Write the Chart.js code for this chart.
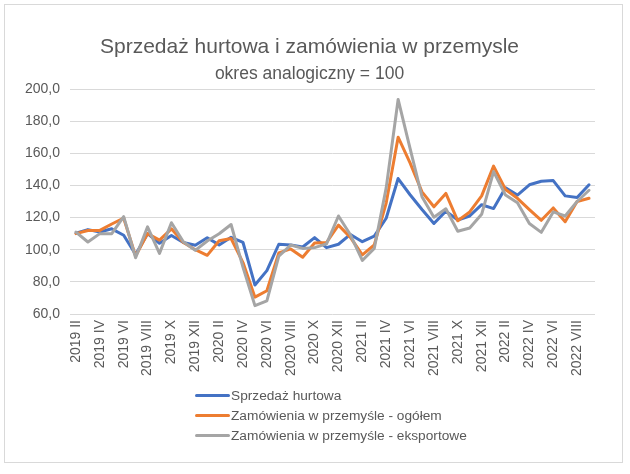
<!DOCTYPE html>
<html>
<head>
<meta charset="utf-8">
<script src="https://cdn.jsdelivr.net/npm/chart.js@4.4.1/dist/chart.umd.min.js"></script>
<style>
  html, body { margin: 0; padding: 0; background: #ffffff; }
  #wrap { position: relative; width: 630px; height: 474px; }
  #c { position: absolute; left: 0; top: 0; }
  #legend { position: absolute; left: 195px; top: 385px; font-family: "Liberation Sans", Arial, sans-serif; font-size: 13.7px; color: #595959; }
  #legend .item { display: flex; align-items: center; height: 20.3px; white-space: nowrap; }
  #legend .swatch { width: 35px; height: 3px; margin-right: 1px; border-radius: 1.5px; }
</style>
</head>
<body>
<div id="wrap">
  <canvas id="c" width="630" height="474"></canvas>
  <div id="legend"></div>
</div>
<script>
const titleText = "Sprzedaż hurtowa i zamówienia w przemysle";
const subtitleText = "okres analogiczny = 100";

const categories = [
  "2019 II","2019 III","2019 IV","2019 V","2019 VI","2019 VII","2019 VIII","2019 IX","2019 X","2019 XI","2019 XII",
  "2020 I","2020 II","2020 III","2020 IV","2020 V","2020 VI","2020 VII","2020 VIII","2020 IX","2020 X","2020 XI","2020 XII",
  "2021 I","2021 II","2021 III","2021 IV","2021 V","2021 VI","2021 VII","2021 VIII","2021 IX","2021 X","2021 XI","2021 XII",
  "2022 I","2022 II","2022 III","2022 IV","2022 V","2022 VI","2022 VII","2022 VIII","2022 IX"
];

const seriesNames = [
  "Sprzedaż hurtowa",
  "Zamówienia w przemyśle - ogółem",
  "Zamówienia w przemyśle - eksportowe"
];

const sprzedazHurtowa = [
  110.3, 112.5, 111.0, 113.0, 109.0, 97.0, 110.0, 104.0, 108.8, 104.5, 102.8,
  107.5, 103.0, 107.7, 104.5, 78.0, 87.0, 103.4, 103.0, 101.7, 107.5, 101.3, 103.4,
  109.5, 105.0, 108.5, 119.6, 144.3, 134.2, 125.0, 116.3, 124.0, 118.5, 121.0, 128.0,
  125.6, 138.5, 134.0, 140.4, 142.6, 143.0, 133.5, 132.5, 140.4
];

const zamowieniaOgolem = [
  110.0, 112.0, 112.0, 116.0, 119.6, 96.0, 110.0, 106.0, 113.0, 104.5, 100.0,
  96.5, 105.6, 107.0, 92.0, 70.5, 74.5, 98.0, 100.5, 95.3, 104.2, 104.5, 115.3,
  107.7, 96.8, 103.0, 129.0, 170.0, 154.0, 136.0, 126.7, 135.0, 118.0, 123.5, 133.5,
  152.0, 137.5, 132.0, 125.0, 118.3, 126.0, 117.4, 130.0, 132.0
];

const zamowieniaEksportowe = [
  111.0, 104.8, 110.0, 110.0, 120.6, 95.0, 114.2, 97.7, 116.8, 105.0, 99.6,
  105.4, 109.9, 115.7, 89.0, 65.2, 68.2, 96.0, 102.9, 100.8, 101.3, 103.6, 121.0,
  109.3, 93.3, 100.8, 138.5, 193.5, 163.0, 133.0, 120.2, 125.5, 111.5, 113.5, 122.0,
  148.6, 134.0, 129.2, 116.3, 110.8, 123.5, 121.0, 130.0, 137.0
];

const yMin = 60, yMax = 200, yStep = 20;

const colors = ["#4472C4", "#ED7D31", "#A5A5A5"];
const seriesData = [sprzedazHurtowa, zamowieniaOgolem, zamowieniaEksportowe];

const textColor = "#595959";
const fontFamily = '"Liberation Sans", Arial, sans-serif';

const borderPlugin = {
  id: 'outerBorder',
  beforeDraw(chart) {
    const ctx = chart.ctx;
    ctx.save();
    ctx.fillStyle = '#ffffff';
    ctx.fillRect(0, 0, chart.width, chart.height);
    ctx.strokeStyle = '#D9D9D9';
    ctx.lineWidth = 1;
    ctx.strokeRect(4.5, 4.5, 618, 458);
    ctx.restore();
  }
};

const datasets = seriesNames.map((name, i) => ({
  label: name,
  data: seriesData[i],
  borderColor: colors[i],
  backgroundColor: colors[i],
  borderWidth: 3,
  pointRadius: 0,
  pointHoverRadius: 0,
  tension: 0,
  fill: false,
  borderJoinStyle: 'round',
  borderCapStyle: 'round',
  order: seriesNames.length - i
}));

new Chart(document.getElementById('c'), {
  type: 'line',
  data: { labels: categories, datasets },
  options: {
    responsive: false,
    animation: false,
    devicePixelRatio: 1,
    layout: { padding: { left: 24, right: 35, top: 0, bottom: 0 } },
    plugins: {
      legend: { display: false },
      tooltip: { enabled: false },
      title: {
        display: true,
        text: titleText,
        color: textColor,
        font: { family: fontFamily, size: 21, weight: 'normal' },
        padding: { top: 35, bottom: 0 }
      },
      subtitle: {
        display: true,
        text: subtitleText,
        color: textColor,
        font: { family: fontFamily, size: 17.5, weight: 'normal' },
        padding: { top: 3.4, bottom: 4.4 }
      }
    },
    scales: {
      x: {
        offset: true,
        grid: { display: false, drawTicks: false },
        border: { display: false },
        ticks: {
          autoSkip: false,
          minRotation: 90,
          maxRotation: 90,
          padding: 6,
          color: textColor,
          font: { family: fontFamily, size: 14 },
          callback: function(value, index) {
            return index % 2 === 0 ? this.getLabelForValue(value) : '';
          }
        },
        afterFit(scale) { scale.height = 160; }
      },
      y: {
        min: yMin,
        max: yMax,
        grid: { color: '#D9D9D9', lineWidth: 1, drawTicks: false },
        border: { display: false },
        ticks: {
          stepSize: yStep,
          padding: 10,
          color: textColor,
          font: { family: fontFamily, size: 14 },
          callback: (v) => v.toFixed(1).replace('.', ',')
        },
        afterFit(scale) { scale.width = 46; }
      }
    }
  },
  plugins: [borderPlugin]
});

const legendEl = document.getElementById('legend');
seriesNames.forEach((name, i) => {
  const item = document.createElement('div');
  item.className = 'item';
  const sw = document.createElement('span');
  sw.className = 'swatch';
  sw.style.background = colors[i];
  const tx = document.createElement('span');
  tx.textContent = name;
  item.appendChild(sw);
  item.appendChild(tx);
  legendEl.appendChild(item);
});
</script>
</body>
</html>
